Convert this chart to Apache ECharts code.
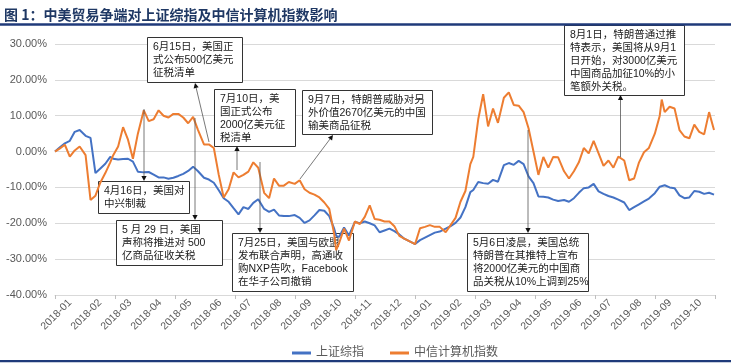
<!DOCTYPE html>
<html><head><meta charset="utf-8">
<script src="https://cdn.jsdelivr.net/npm/echarts@6/dist/echarts.min.js"></script>
<style>html,body{margin:0;padding:0;background:#fff}#c{width:731px;height:364px}</style>
</head><body><div id="c"></div>
<script>
// ---- data ----
const months = ['2018-01','2018-02','2018-03','2018-04','2018-05','2018-06','2018-07','2018-08','2018-09','2018-10','2018-11','2018-12',
  '2019-01','2019-02','2019-03','2019-04','2019-05','2019-06','2019-07','2019-08','2019-09','2019-10'];

const dates = [
 '2018-01-01','2018-01-06','2018-01-11','2018-01-16','2018-01-21','2018-01-26',
 '2018-02-01','2018-02-06','2018-02-11','2018-02-16','2018-02-21','2018-02-26',
 '2018-03-01','2018-03-06','2018-03-11','2018-03-16','2018-03-21','2018-03-26',
 '2018-04-01','2018-04-06','2018-04-11','2018-04-16','2018-04-21','2018-04-26',
 '2018-05-01','2018-05-06','2018-05-11','2018-05-16','2018-05-21','2018-05-26',
 '2018-06-01','2018-06-06','2018-06-11','2018-06-16','2018-06-21','2018-06-26',
 '2018-07-01','2018-07-06','2018-07-11','2018-07-16','2018-07-21','2018-07-26',
 '2018-08-01','2018-08-06','2018-08-11','2018-08-16','2018-08-21','2018-08-26',
 '2018-09-01','2018-09-06','2018-09-11','2018-09-16','2018-09-21','2018-09-26',
 '2018-10-01','2018-10-06','2018-10-11','2018-10-13','2018-10-16','2018-10-21','2018-10-26',
 '2018-11-01','2018-11-06','2018-11-11','2018-11-16','2018-11-21','2018-11-26',
 '2018-12-01','2018-12-06','2018-12-11','2018-12-16','2018-12-21','2018-12-26',
 '2019-01-01','2019-01-06','2019-01-11','2019-01-16','2019-01-21','2019-01-26',
 '2019-02-01','2019-02-06','2019-02-11','2019-02-16','2019-02-21','2019-02-26',
 '2019-03-01','2019-03-06','2019-03-11','2019-03-16','2019-03-21','2019-03-26',
 '2019-04-01','2019-04-06','2019-04-11','2019-04-16','2019-04-21','2019-04-26',
 '2019-05-01','2019-05-06','2019-05-11','2019-05-16','2019-05-21','2019-05-26',
 '2019-06-01','2019-06-06','2019-06-11','2019-06-16','2019-06-21','2019-06-26',
 '2019-07-01','2019-07-06','2019-07-11','2019-07-16','2019-07-21','2019-07-26',
 '2019-08-01','2019-08-06','2019-08-11','2019-08-16','2019-08-21','2019-08-26',
 '2019-09-01','2019-09-06','2019-09-08','2019-09-11','2019-09-16','2019-09-21','2019-09-26',
 '2019-10-01','2019-10-06','2019-10-11','2019-10-16','2019-10-21','2019-10-26','2019-10-31'
];

// 上证综指 (%)
const shIndex = [
 0, 1.2, 2.3, 3.0, 5.5, 6.0,
 4.4, 3.8, -6.0, -4.7, -3.4, -1.5,
 -2.0, -2.2, -2.1, -2.0, -2.8, -5.6,
 -5.8, -5.7, -6.4, -7.2, -7.2, -7.6,
 -7.3, -6.8, -6.2, -5.4, -4.2, -5.5,
 -7.3, -7.8, -8.7, -10.8, -13.0, -14.0,
 -15.8, -17.5, -15.5, -16.0, -14.3, -13.3,
 -16.0, -16.8, -16.2, -17.8, -18.0, -18.0,
 -17.7, -18.5, -19.9, -19.2, -17.8, -16.3,
 -16.5, -18.0, -21.5, -23.5, -23.8, -21.2, -23.4,
 -19.6, -20.0, -19.5, -20.0, -20.6, -22.5,
 -22.0, -21.5, -22.2, -23.1, -24.3, -25.0,
 -25.8, -24.7, -24.0, -23.3, -22.6, -22.3,
 -21.5, -20.8, -19.9, -18.4, -15.5, -11.3,
 -10.7, -8.5, -8.8, -9.0, -7.9, -8.4,
 -3.8, -3.2, -3.7, -2.6, -3.5, -6.9,
 -8.8, -12.5, -12.6, -12.8, -13.4, -13.8,
 -13.5, -14.0, -13.0, -11.5, -10.2, -10.0,
 -9.0, -11.1, -11.8, -12.4, -12.8, -13.4,
 -14.2, -16.3, -15.5, -14.7, -13.9, -13.1,
 -11.6, -9.8, -9.6, -9.4, -10.0, -10.2, -12.2,
 -13.0, -12.8, -11.0, -11.2, -11.8, -11.5, -12.0
];

// 中信计算机指数 (%)
const csComputer = [
 0, 0.9, 1.9, -1.4, 0.3, 1.4,
 -1.0, -13.5, -12.3, -8.6, -6.0, -3.0,
 -1.0, 1.4, 6.8, 3.3, -2.0, 5.0,
 11.5, 8.5, 9.0, 11.5, 10.0, 9.5,
 10.5, 10.5, 9.5, 7.9, 9.7, 6.0,
 2.0, 2.0, 1.0, -6.5, -12.8, -10.5,
 -5.8, -7.2, -6.5, -5.6, -3.0, -4.5,
 -11.5, -13.0, -7.5, -9.5, -9.5, -8.5,
 -9.0, -8.0, -10.5, -11.5, -12.0, -12.8,
 -14.2, -16.0, -23.0, -27.5, -25.5, -21.5, -24.8,
 -19.5, -20.2, -18.2, -15.0, -18.8, -19.0,
 -19.5, -19.5, -20.8, -23.5, -24.3, -25.0,
 -25.8, -21.4, -21.0, -20.5, -21.0, -21.0,
 -22.5, -20.5, -18.5, -14.0, -11.0, -3.5,
 -1.5, 9.0, 16.0, 7.0, 12.0, 8.0,
 15.0, 16.5, 13.0, 12.8, 11.0, 6.5,
 0.0, -6.5, -1.5, -4.5, -1.5, -1.6,
 -5.5, -7.5, -5.5, -3.0, 1.0, -0.5,
 3.0, -0.5, -4.0, -2.5, -4.5, -1.4,
 -2.5, -8.0, -7.5, -3.0, -0.2, 1.0,
 5.0, 10.0, 14.5, 11.0, 12.5, 12.0, 6.0,
 4.2, 3.7, 7.5, 5.5, 4.8, 11.0, 6.0
];

const seriesNames = ['上证综指', '中信计算机指数'];
const yMin = -40, yMax = 30, yStep = 10;
const titleText = '图 1：中美贸易争端对上证综指及中信计算机指数影响';

const notes = [
 {box:[147,37,95,45], lines:['6月15日，美国正','式公布500亿美元','征税清单'], from:[209,142], to:[195,83]},
 {box:[214,89,81,57], lines:['7月10日，美','国正式公布','2000亿美元征','税清单'], from:[237,170], to:[237,146]},
 {box:[302,90,130,44], lines:['9月7日，特朗普威胁对另','外价值2670亿美元的中国','输美商品征税'], from:[300,179], to:[333,135]},
 {box:[98,181,91,32], lines:['4月16日，美国对','中兴制裁'], from:[144,109], to:[144,181]},
 {box:[116,220,106,45], lines:['5 月 29 日，美国','声称将推进对 500','亿商品征收关税'], from:[195,118], to:[195,220]},
 {box:[232,233,121,58], lines:['7月25日，美国与欧盟','发布联合声明，高通收','购NXP告吹，Facebook','在华子公司撤销'], from:[260,162], to:[260,233]},
 {box:[467,233,121,58], lines:['5月6日凌晨，美国总统','特朗普在其推特上宣布','将2000亿美元的中国商','品关税从10%上调到25%'], from:[528,130], to:[528,233]},
 {box:[564,25,120,70], lines:['8月1日，特朗普通过推','特表示，美国将从9月1','日开始，对3000亿美元','中国商品加征10%的小','笔额外关税。'], from:[620.5,157], to:[620.5,95]}
];

// ---- build ----
const FONT = '"Liberation Sans","Noto Sans CJK SC",sans-serif';
const graphics = [];
graphics.push({type:'text', x:4, y:8, z:5, style:{text:titleText, font:'bold 14px "Noto Sans CJK SC","Liberation Sans"', fill:'#1F3864', verticalAlign:'top'}});
graphics.push({type:'rect', shape:{x:0,y:23.3,width:731,height:2.4}, z:5, style:{fill:'#1F3A7A'}});
graphics.push({type:'rect', shape:{x:0,y:360,width:731,height:2.2}, z:5, style:{fill:'#1F3A7A'}});
notes.forEach(n => {
  const [bx,by,bw,bh] = n.box;
  graphics.push({type:'rect', z:1, shape:{x:bx+0.5,y:by+0.5,width:bw,height:bh}, style:{fill:'#fff', stroke:'#333', lineWidth:1}});
  graphics.push({type:'text', z:1, z2:5, x:bx+6, y:by+4, style:{text:n.lines.join('\n'), font:'10.5px "Liberation Sans","Noto Sans CJK SC"', fill:'#1a1a1a', lineHeight:13, verticalAlign:'top'}});
  const [x1,y1] = n.from, [x2,y2] = n.to;
  const dx = x2-x1, dy = y2-y1, L = Math.hypot(dx,dy), ux = dx/L, uy = dy/L;
  const hl = 5, hw = 2.6;
  const bxp = x2-ux*hl, byp = y2-uy*hl;
  graphics.push({type:'line', z:3, shape:{x1,y1,x2:bxp,y2:byp}, style:{stroke:'#555', lineWidth:0.8}});
  graphics.push({type:'polygon', z:3, shape:{points:[[x2,y2],[bxp-uy*hw,byp+ux*hw],[bxp+uy*hw,byp-ux*hw]]}, style:{fill:'#111'}});
});

const chart = echarts.init(document.getElementById('c'), null, {renderer:'canvas'});
chart.setOption({
  animation:false,
  backgroundColor:'#fff',
  textStyle:{fontFamily:FONT},
  grid:{left:55, right:16, top:44, bottom:69, containLabel:false, outerBoundsMode:'none'},
  legend:{left:287, top:342, icon:'rect', itemWidth:19, itemHeight:3, itemGap:26,
    textStyle:{fontSize:12, color:'#595959', fontFamily:FONT}, data:seriesNames},
  xAxis:[
    {type:'time', min:'2018-01-01', max:'2019-11-01', show:false},
    {type:'category', data:months, position:'bottom', offset:0, boundaryGap:true,
      axisLine:{show:false, onZero:false}, axisTick:{show:false}, splitLine:{show:false},
      axisLabel:{show:true, interval:0, rotate:45, margin:6, fontSize:10.5, color:'#595959', fontFamily:FONT}},
    {type:'category', data:months, position:'bottom', offset:0, boundaryGap:true,
      axisLine:{show:true, onZero:true, lineStyle:{color:'#D9D9D9', width:1}},
      axisTick:{show:true, length:4, inside:false, lineStyle:{color:'#BFBFBF'}},
      axisLabel:{show:false}, splitLine:{show:false}}
  ],
  yAxis:{type:'value', min:yMin, max:yMax, interval:yStep,
    axisLine:{show:false}, axisTick:{show:false},
    splitLine:{lineStyle:{color:'#D9D9D9', width:1}},
    axisLabel:{formatter:v => v.toFixed(2)+'%', fontSize:11, color:'#595959', margin:8, fontFamily:FONT}},
  series:[
    {name:seriesNames[0], type:'line', xAxisIndex:0, showSymbol:false, symbol:'none', z:2,
      lineStyle:{width:2, color:'#4472C4'}, itemStyle:{color:'#4472C4'},
      data:dates.map((d,i)=>[d, shIndex[i]])},
    {name:seriesNames[1], type:'line', xAxisIndex:0, showSymbol:false, symbol:'none', z:2,
      lineStyle:{width:2, color:'#ED7D31'}, itemStyle:{color:'#ED7D31'},
      data:dates.map((d,i)=>[d, csComputer[i]])}
  ],
  graphic:{elements:graphics}
});
</script></body></html>
